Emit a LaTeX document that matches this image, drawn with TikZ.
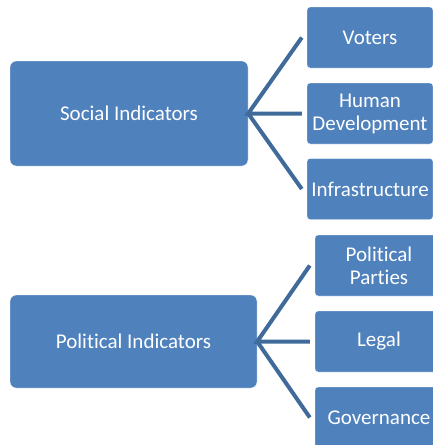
\documentclass[tikz,border=0pt]{standalone}
\usepackage{fontspec}
\setmainfont{Carlito}[RawFeature={-liga;-clig;-calt;-dlig;-rlig}]
\definecolor{boxblue}{HTML}{4F81BD}
\definecolor{linkblue}{HTML}{3F6A99}
\begin{document}
\begin{tikzpicture}[x=1pt,y=-1pt,
  ind/.style={draw=white,fill=boxblue,text=white,rounded corners=6pt,inner sep=0pt,
    align=center,font=\fontsize{21}{23}\selectfont},
  sub/.style={ind,rounded corners=3pt,minimum width=126pt,minimum height=61pt},
  link/.style={draw=linkblue,line width=4pt}]
\clip (0,0) rectangle (433,445);
%\draw[help lines,step=20] (0,0) grid (433,445);
% social part
\node[ind,minimum width=238pt,minimum height=105pt] (soc) at (129,113.5) {Social Indicators};
\node[sub] (vot) at (370,37.5) {Voters};
\node[sub] (hum) at (370,113.5) {Human\\Development};
\node[sub] (inf) at (370,189) {Infrastructure};
\draw[link] ([xshift=-5pt]vot.west) -- (soc.east) -- ([xshift=-5pt]hum.west);
\draw[link] (soc.east) -- ([xshift=-5pt]inf.west);
% political part
\node[ind,minimum width=247pt,minimum height=93pt] (pol) at (133.5,341.5) {Political Indicators};
\node[sub,minimum width=128pt] (par) at (379,265.5) {Political\\Parties};
\node[sub,minimum width=128pt] (leg) at (379,341.5) {Legal};
\node[sub,minimum width=128pt] (gov) at (379,417.5) {Governance};
\draw[link] ([xshift=-5pt]par.west) -- (pol.east) -- ([xshift=-5pt]leg.west);
\draw[link] (pol.east) -- ([xshift=-5pt]gov.west);
\end{tikzpicture}
\end{document}
